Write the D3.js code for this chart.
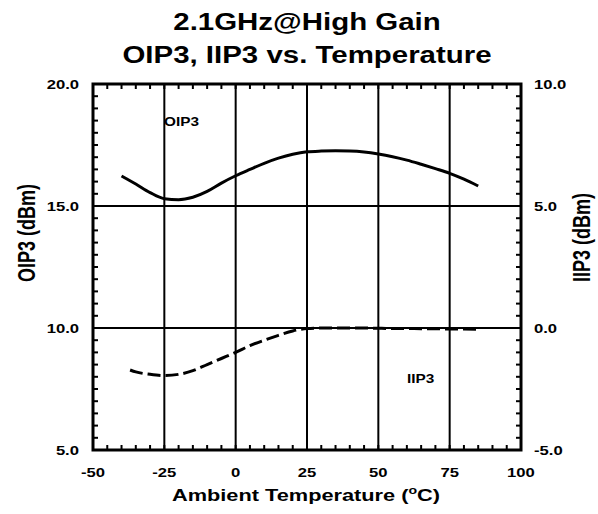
<!DOCTYPE html>
<html>
<head>
<meta charset="utf-8">
<script src="https://cdn.jsdelivr.net/npm/d3@7"></script>
<style>
  html, body { margin: 0; padding: 0; background: #fff; }
  text { font-family: Arial, "Liberation Sans", sans-serif; font-weight: bold; fill: #000; }
</style>
</head>
<body>
<svg id="chart" width="598" height="514"></svg>
<script>
// ---------- data ----------
const titleLines = ["2.1GHz@High Gain", "OIP3, IIP3 vs. Temperature"];
const xTicks = [-50, -25, 0, 25, 50, 75, 100];
const leftTicks = [5, 10, 15, 20];
const rightTicks = [-5, 0, 5, 10];
const oip3Temp = [-40, -35, -30, -25, -20, -15, -10, -5, 0, 5, 10, 15, 20, 25, 30, 35, 40, 45, 50, 55, 60, 65, 70, 75, 80, 85];
const oip3Vals = [16.23, 15.9, 15.55, 15.3, 15.26, 15.36, 15.6, 15.94, 16.24, 16.5, 16.75, 16.96, 17.12, 17.22, 17.25, 17.26, 17.25, 17.21, 17.13, 17.02, 16.88, 16.71, 16.53, 16.34, 16.1, 15.82];
const iip3Temp = [-37, -35, -30, -25, -20, -15, -10, -5, 0, 5, 10, 15, 20, 25, 30, 35, 40, 45, 50, 55, 60, 65, 70, 75, 80, 85];
const iip3Vals = [-1.72, -1.8, -1.9, -1.95, -1.9, -1.75, -1.5, -1.25, -1.0, -0.72, -0.5, -0.3, -0.12, -0.02, 0.0, 0.0, 0.0, 0.0, -0.01, -0.02, -0.02, -0.03, -0.03, -0.04, -0.04, -0.05];
const gridX = [-25, 0, 25, 50, 75];
const gridY = [10, 15];

// ---------- layout ----------
const svg = d3.select("#chart");
const L = 93, R = 521, T = 84, B = 450;
const SX = 1.28; // horizontal text stretch

const x = d3.scaleLinear().domain([-50, 100]).range([L, R]);
const yL = d3.scaleLinear().domain([5, 20]).range([B, T]);
const yR = d3.scaleLinear().domain([-5, 10]).range([B, T]);

function stretchedText(g, tx, ty, str, size, anchor, rot) {
  const t = g.append("text")
    .attr("transform", `translate(${tx},${ty}) scale(${SX},1)` + (rot ? ` rotate(${rot})` : ""))
    .attr("font-size", size)
    .attr("text-anchor", anchor)
    .text(str);
  return t;
}

// grid lines
svg.append("g").selectAll("line.gx").data(gridX).join("line")
  .attr("x1", d => x(d)).attr("x2", d => x(d))
  .attr("y1", T).attr("y2", B)
  .attr("stroke", "#000").attr("stroke-width", 2);
svg.append("g").selectAll("line.gy").data(gridY).join("line")
  .attr("x1", L).attr("x2", R)
  .attr("y1", d => yL(d)).attr("y2", d => yL(d))
  .attr("stroke", "#000").attr("stroke-width", 2);

// minor ticks (inside)
const tickLen = 5;
const xMinor = d3.range(-50, 100.001, 5);
const yMinor = d3.range(5, 20.001, 0.5);
const ticks = svg.append("g").attr("stroke", "#000").attr("stroke-width", 2);
ticks.selectAll("line.bt").data(xMinor).join("line")
  .attr("x1", d => x(d)).attr("x2", d => x(d)).attr("y1", B).attr("y2", B - tickLen);
ticks.selectAll("line.tt").data(xMinor).join("line")
  .attr("x1", d => x(d)).attr("x2", d => x(d)).attr("y1", T).attr("y2", T + tickLen);
ticks.selectAll("line.lt").data(yMinor).join("line")
  .attr("x1", L).attr("x2", L + tickLen).attr("y1", d => yL(d)).attr("y2", d => yL(d));
ticks.selectAll("line.rt").data(yMinor).join("line")
  .attr("x1", R).attr("x2", R - tickLen).attr("y1", d => yL(d)).attr("y2", d => yL(d));

// frame
svg.append("rect").attr("x", L).attr("y", T).attr("width", R - L).attr("height", B - T)
  .attr("fill", "none").attr("stroke", "#000").attr("stroke-width", 3);

// curves
const lineL = d3.line().x(d => x(d[0])).y(d => yL(d[1])).curve(d3.curveMonotoneX);
const lineR = d3.line().x(d => x(d[0])).y(d => yR(d[1])).curve(d3.curveMonotoneX);
svg.append("path").datum(d3.zip(oip3Temp, oip3Vals)).attr("d", lineL)
  .attr("fill", "none").attr("stroke", "#000").attr("stroke-width", 3);
svg.append("path").datum(d3.zip(iip3Temp, iip3Vals)).attr("d", lineR)
  .attr("fill", "none").attr("stroke", "#000").attr("stroke-width", 3)
  .attr("stroke-dasharray", "13,5");

// tick labels
const lab = svg.append("g");
xTicks.forEach(v => stretchedText(lab, x(v), 477, String(v), 13, "middle"));
leftTicks.forEach(v => stretchedText(lab, 79, yL(v) + 4.5, v.toFixed(1), 13, "end"));
rightTicks.forEach(v => stretchedText(lab, 534, yR(v) + 4.5, v.toFixed(1), 13, "start"));

// series labels
stretchedText(lab, 164, 126, "OIP3", 12, "start");
stretchedText(lab, 407, 383, "IIP3", 12, "start");

// titles
stretchedText(lab, 307, 29.5, titleLines[0], 23, "middle");
stretchedText(lab, 307, 63, titleLines[1], 23, "middle");

// x axis title with superscript
const xt = lab.append("text")
  .attr("transform", `translate(306,501) scale(${SX},1)`)
  .attr("font-size", 17).attr("text-anchor", "middle");
xt.append("tspan").text("Ambient Temperature (");
xt.append("tspan").attr("font-size", 11).attr("dy", -7).text("o");
xt.append("tspan").attr("dy", 7).text("C)");

// y axis titles
stretchedText(lab, 35, 282, "OIP3 (dBm)", 18, "start", -90);
stretchedText(lab, 590, 282, "IIP3 (dBm)", 18, "start", -90);
</script>
</body>
</html>
